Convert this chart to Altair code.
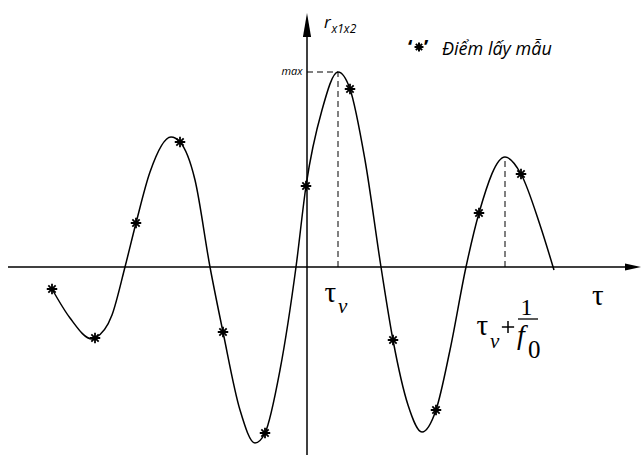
import altair as alt
import pandas as pd

# Cross-correlation curve r_x1x2(tau): points
curve_tau = [-2.55, -2.37, -2.15, -2.12, -1.95, -1.82, -1.71, -1.57, -1.36, -1.27,
             -1.12, -0.97, -0.84, -0.67, -0.52, -0.42, -0.27, -0.11, -0.01, 0.15,
             0.31, 0.43, 0.58, 0.74, 0.86, 1.01, 1.15, 1.29, 1.43, 1.59,
             1.72, 1.98, 2.14, 2.33, 2.47]
curve_r = [-0.22, -0.51, -0.72, -0.71, -0.48, 0.0, 0.44, 0.95, 1.30, 1.25,
           0.87, 0.0, -0.65, -1.43, -1.76, -1.66, -1.03, 0.0, 0.81, 1.57,
           1.95, 1.78, 1.07, 0.0, -0.73, -1.38, -1.65, -1.43, -0.83, 0.0,
           0.54, 1.10, 0.93, 0.42, -0.03]

# Sampling points ('*')
sample_tau = [-2.55, -2.12, -1.71, -1.27, -0.84, -0.42, -0.01, 0.43, 0.86, 1.29, 1.72, 2.14]
sample_r = [-0.22, -0.71, 0.44, 1.25, -0.65, -1.66, 0.81, 1.78, -0.73, -1.43, 0.54, 0.93]

# Peak positions: tau_v (global max) and tau_v + 1/f0 (next max)
tau_v, r_max = 0.31, 1.95
tau_next, r_next = 1.98, 1.10

X_DOM = [-3.07, 3.36]
Y_DOM = [-1.90, 2.67]

xs = alt.Scale(domain=X_DOM, nice=False, zero=False)
ys = alt.Scale(domain=Y_DOM, nice=False, zero=False)
X = lambda f: alt.X(f, type="quantitative", scale=xs, axis=None)
Y = lambda f: alt.Y(f, type="quantitative", scale=ys, axis=None)

curve_df = pd.DataFrame({"tau": curve_tau, "r": curve_r})
sample_df = pd.DataFrame({"tau": sample_tau, "r": sample_r})

curve = alt.Chart(curve_df).mark_line(
    color="black", strokeWidth=1.5, interpolate="monotone"
).encode(x=X("tau"), y=Y("r"))

asterisk = "M-1,0L1,0M0,-1L0,1M-0.7,-0.7L0.7,0.7M-0.7,0.7L0.7,-0.7"
samples = alt.Chart(sample_df).mark_point(
    shape=asterisk, size=110, color="black", strokeWidth=1.8, filled=False, opacity=1
).encode(x=X("tau"), y=Y("r"))

# Coordinate axes with arrow heads
axes_df = pd.DataFrame({
    "x": [-2.99, 0.0], "x2": [3.21, 0.0],
    "y": [0.0, -1.88], "y2": [0.0, 2.32],
})
axes = alt.Chart(axes_df).mark_rule(color="black", strokeWidth=1.5).encode(
    x=X("x"), x2="x2", y=Y("y"), y2="y2"
)
arrow_x = alt.Chart(pd.DataFrame({"x": [3.26], "y": [0.0]})).mark_point(
    shape="M-1,-0.45L1,0L-1,0.45Z", size=256, filled=True, color="black", opacity=1
).encode(x=X("x"), y=Y("y"))
arrow_y = alt.Chart(pd.DataFrame({"x": [0.0], "y": [2.42]})).mark_point(
    shape="M-0.34,1L0,-1L0.34,1Z", size=576, filled=True, color="black", opacity=1
).encode(x=X("x"), y=Y("y"))

# Dashed guides to the peaks
dash_df = pd.DataFrame({
    "x": [0.0, tau_v, tau_next],
    "x2": [tau_v, tau_v, tau_next],
    "y": [r_max, 0.0, 0.0],
    "y2": [r_max, r_max, r_next],
})
dashes = alt.Chart(dash_df).mark_rule(
    color="black", strokeWidth=1, strokeDash=[6, 4]
).encode(x=X("x"), x2="x2", y=Y("y"), y2="y2")

def label(x, y, text, **kw):
    return alt.Chart(pd.DataFrame({"x": [x], "y": [y], "t": [text]})).mark_text(
        color="black", **kw
    ).encode(x=X("x"), y=Y("y"), text="t:N")

sans = "Open Sans"
serif = "Liberation Serif"

# Legend asterisk uses the same glyph as the sample markers
legend_star = alt.Chart(pd.DataFrame({"x": [1.12], "y": [2.20]})).mark_point(
    shape=asterisk, size=80, color="black", strokeWidth=2, filled=False, opacity=1
).encode(x=X("x"), y=Y("y"))

# Plus sign of the "tau_v + 1/f0" annotation
plus = alt.Chart(pd.DataFrame({"x": [2.01], "y": [-0.60]})).mark_point(
    shape="M-1,0L1,0M0,-1L0,1", size=150, color="black", strokeWidth=1.5,
    filled=False, opacity=1
).encode(x=X("x"), y=Y("y"))

labels = [
    label(-0.045, r_max, "max", font=sans, fontStyle="italic", fontSize=11,
          align="right", baseline="middle"),
    label(0.17, 2.39, "r", font=sans, fontStyle="italic", fontSize=17,
          align="left", baseline="alphabetic"),
    label(0.245, 2.34, "x1x2", font=sans, fontStyle="italic", fontSize=12,
          align="left", baseline="alphabetic"),
    label(1.01, 2.13, "‘", font=sans, fontSize=20, fontWeight="bold",
          align="left", baseline="alphabetic"),
    label(1.17, 2.13, "’", font=sans, fontSize=20, fontWeight="bold",
          align="left", baseline="alphabetic"),
    label(1.35, 2.12, "Điểm lấy mẫu", font=sans, fontStyle="italic",
          fontSize=18, align="left", baseline="alphabetic"),
    # tau_v under the main peak
    label(0.175, -0.35, "τ", font=serif, fontSize=29, align="left", baseline="alphabetic"),
    label(0.31, -0.46, "ν", font=serif, fontStyle="italic", fontSize=21,
          align="left", baseline="alphabetic"),
    # tau axis name
    label(2.85, -0.38, "τ", font=serif, fontSize=29, align="left", baseline="alphabetic"),
    # tau_v + 1/f0
    label(1.695, -0.68, "τ", font=serif, fontSize=29, align="left", baseline="alphabetic"),
    label(1.83, -0.81, "ν", font=serif, fontStyle="italic", fontSize=21,
          align="left", baseline="alphabetic"),
    label(2.195, -0.48, "1", font=serif, fontSize=24, align="center", baseline="alphabetic"),
    label(2.10, -0.77, "f", font=serif, fontStyle="italic", fontSize=28,
          align="left", baseline="alphabetic"),
    label(2.21, -0.905, "0", font=serif, fontSize=25, align="left", baseline="alphabetic"),
]
frac_bar = alt.Chart(pd.DataFrame({"x": [2.11], "x2": [2.31], "y": [-0.52]})).mark_rule(
    color="black", strokeWidth=1.3
).encode(x=X("x"), x2="x2", y=Y("y"))

chart = alt.layer(
    axes, arrow_x, arrow_y, dashes, curve, samples, frac_bar, legend_star, plus, *labels
).properties(
    width=643, height=457,
    autosize=alt.AutoSizeParams(type="none"),
    padding=0,
    background="white",
).configure_view(stroke=None)

chart.save("out.html", embed_options={"renderer": "svg", "actions": False})
